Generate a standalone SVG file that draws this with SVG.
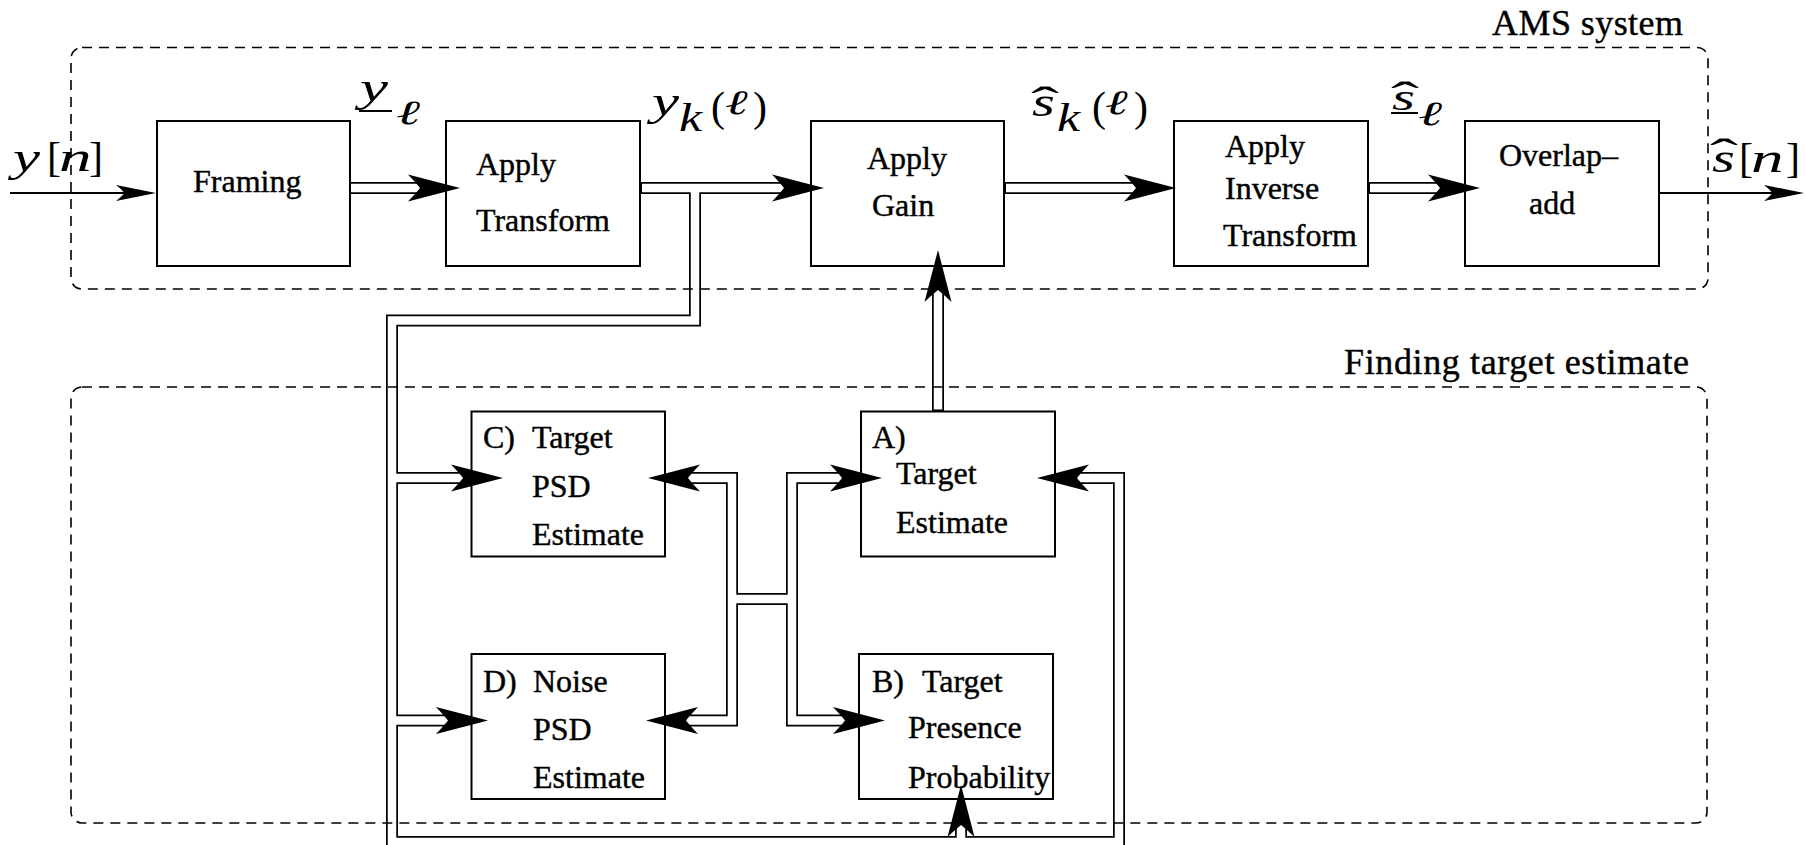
<svg xmlns="http://www.w3.org/2000/svg" xmlns:xlink="http://www.w3.org/1999/xlink" width="1806" height="845" viewBox="0 0 1806 845" font-family="Liberation Serif">
<style>
.box{fill:none;stroke:#000;stroke-width:2}
.dash{fill:none;stroke:#000;stroke-width:1.6;stroke-dasharray:10 7}
.dlo{fill:none;stroke:#000;stroke-width:12;stroke-linejoin:miter}
.dli{fill:none;stroke:#fff;stroke-width:8.5;stroke-linejoin:miter}
.sl{fill:none;stroke:#000;stroke-width:2}
.ul{stroke:#000;stroke-width:2}
text{fill:#000;stroke:#000;stroke-width:0.4}
.t{font-size:32px}
.ttl{font-size:36px}
.m{font-size:42px;font-style:italic;stroke:none}
.mu{font-size:42px;stroke:none}
.ms{font-size:38px;font-style:italic;stroke:none}
.mk{font-size:40px;font-style:italic;stroke:none}
.ml{font-size:34px;font-style:italic;stroke:none}
</style>
<defs>
<path id="ah" d="M0,0 L-52,-13.5 Q-43,-4 -40,0 Q-43,4 -52,13.5 Z" fill="#000"/>
<path id="as" d="M0,0 L-40,-8 Q-33,-2.5 -32,0 Q-33,2.5 -40,8 Z" fill="#000"/>
</defs>

<g id="connectors">
<g id="double-outer" class="dlo">
<path d="M349 188 H432"/>
<path d="M640 188 H795"/>
<path d="M1004 188 H1148"/>
<path d="M1368 188 H1452"/>
<path d="M695 188 V320.5 H392 V842 H1119 V478 H1065"/>
<path d="M392 478 H476"/>
<path d="M392 720.5 H461"/>
<path d="M961 842 V810"/>
<path d="M938 411.5 V278"/>
<path d="M676 478 H732 V720.5 H674"/>
<path d="M855 478 H792 V720.5 H858"/>
<path d="M732 599 H792"/>
</g>
<g id="double-inner" class="dli">
<path d="M351 188 H432"/>
<path d="M642 188 H795"/>
<path d="M1006 188 H1148"/>
<path d="M1370 188 H1452"/>
<path d="M695 188 V320.5 H392 V842 H1119 V478 H1065"/>
<path d="M392 478 H476"/>
<path d="M392 720.5 H461"/>
<path d="M961 842 V810"/>
<path d="M938 409.5 V278"/>
<path d="M676 478 H732 V720.5 H674"/>
<path d="M855 478 H792 V720.5 H858"/>
<path d="M732 599 H792"/>
</g>
<path class="sl" d="M10 193 H130"/>
<path class="sl" d="M1659 193 H1780"/>
<g id="arrowheads">
<use xlink:href="#as" transform="translate(156,193)"/>
<use xlink:href="#as" transform="translate(1804,193)"/>
<use xlink:href="#ah" transform="translate(460,188)"/>
<use xlink:href="#ah" transform="translate(824,188)"/>
<use xlink:href="#ah" transform="translate(1176,188)"/>
<use xlink:href="#ah" transform="translate(1480,188)"/>
<use xlink:href="#ah" transform="translate(938,250) rotate(-90)"/>
<use xlink:href="#ah" transform="translate(961,785) rotate(-90)"/>
<use xlink:href="#ah" transform="translate(503,478)"/>
<use xlink:href="#ah" transform="translate(488,720.5)"/>
<use xlink:href="#ah" transform="translate(648,478) rotate(180)"/>
<use xlink:href="#ah" transform="translate(646,720.5) rotate(180)"/>
<use xlink:href="#ah" transform="translate(882,478)"/>
<use xlink:href="#ah" transform="translate(885,720.5)"/>
<use xlink:href="#ah" transform="translate(1037,478) rotate(180)"/>
</g>
</g>

<g id="ams-system">
<rect class="dash" x="71" y="47.5" width="1637" height="241.5" rx="11"/>
<text class="ttl" x="1492" y="35" textLength="191">AMS system</text>
</g>
<g id="finding-target-estimate">
<rect class="dash" x="71" y="387" width="1636" height="436" rx="11"/>
<text class="ttl" x="1344" y="374" textLength="345">Finding target estimate</text>
</g>

<g id="framing">
<rect class="box" x="157" y="121" width="193" height="145"/>
<text class="t" x="193" y="192">Framing</text>
</g>
<g id="apply-transform">
<rect class="box" x="446" y="121" width="194" height="145"/>
<text class="t" x="476" y="175">Apply</text>
<text class="t" x="476" y="231">Transform</text>
</g>
<g id="apply-gain">
<rect class="box" x="811" y="121" width="193" height="145"/>
<text class="t" x="867" y="169">Apply</text>
<text class="t" x="872" y="216">Gain</text>
</g>
<g id="apply-inverse-transform">
<rect class="box" x="1174" y="121" width="194" height="145"/>
<text class="t" x="1225" y="157">Apply</text>
<text class="t" x="1225" y="199">Inverse</text>
<text class="t" x="1223" y="246">Transform</text>
</g>
<g id="overlap-add">
<rect class="box" x="1465" y="121" width="194" height="145"/>
<text class="t" x="1499" y="166">Overlap–</text>
<text class="t" x="1529" y="214">add</text>
</g>

<g id="target-psd">
<rect class="box" x="471.5" y="411.5" width="193.5" height="145"/>
<text class="t" x="483" y="448">C)</text>
<text class="t" x="532" y="448">Target</text>
<text class="t" x="532" y="497">PSD</text>
<text class="t" x="532" y="545">Estimate</text>
</g>
<g id="target-estimate">
<rect class="box" x="861" y="411.5" width="194" height="145"/>
<text class="t" x="872" y="448">A)</text>
<text class="t" x="896" y="484">Target</text>
<text class="t" x="896" y="533">Estimate</text>
</g>
<g id="noise-psd">
<rect class="box" x="471.5" y="654" width="193.5" height="145"/>
<text class="t" x="483" y="692">D)</text>
<text class="t" x="533" y="692">Noise</text>
<text class="t" x="533" y="740">PSD</text>
<text class="t" x="533" y="788">Estimate</text>
</g>
<g id="target-presence">
<rect class="box" x="859" y="654" width="194" height="145"/>
<text class="t" x="872" y="692">B)</text>
<text class="t" x="922" y="692">Target</text>
<text class="t" x="908" y="738">Presence</text>
<text class="t" x="908" y="788">Probability</text>
</g>

<g id="labels">
<g id="lbl-yn">
<text class="m" transform="translate(13,171) scale(1.45,1)">y</text>
<text class="mu" x="47" y="171">[</text>
<text class="m" transform="translate(59,171) scale(1.55,1)">n</text>
<text class="mu" x="89" y="171">]</text>
</g>
<g id="lbl-yl">
<text class="m" transform="translate(360,101) scale(1.5,1)">y</text>
<line class="ul" x1="359" y1="111" x2="392" y2="111"/>
<text class="ml" transform="translate(396,124) scale(1.7,1)">ℓ</text>
</g>
<g id="lbl-ykl">
<text class="m" transform="translate(652,115) scale(1.45,1)">y</text>
<text class="mk" transform="translate(679,131) scale(1.3,1)">k</text>
<text class="mu" x="711" y="121">(</text>
<text class="ml" transform="translate(725,114) scale(1.6,1)">ℓ</text>
<text class="mu" x="753" y="121">)</text>
</g>
<g id="lbl-skl">
<text class="m" transform="translate(1032,116) scale(1.4,1)">s</text>
<text class="mu" text-anchor="middle" transform="translate(1045,116) scale(2,1)">ˆ</text>
<text class="mk" transform="translate(1057,131) scale(1.3,1)">k</text>
<text class="mu" x="1092" y="121">(</text>
<text class="ml" transform="translate(1105,114) scale(1.6,1)">ℓ</text>
<text class="mu" x="1134" y="121">)</text>
</g>
<g id="lbl-sl">
<text class="ms" transform="translate(1392,110) scale(1.55,1)">s</text>
<text class="mu" text-anchor="middle" transform="translate(1405,111) scale(2,1)">ˆ</text>
<line class="ul" x1="1391" y1="113" x2="1418" y2="113"/>
<text class="ml" transform="translate(1418,125) scale(1.7,1)">ℓ</text>
</g>
<g id="lbl-sn">
<text class="m" transform="translate(1712,172) scale(1.4,1)">s</text>
<text class="mu" text-anchor="middle" transform="translate(1724,168) scale(2,1)">ˆ</text>
<text class="mu" x="1739" y="172">[</text>
<text class="m" transform="translate(1751,172) scale(1.55,1)">n</text>
<text class="mu" x="1786" y="172">]</text>
</g>
</g>
</svg>
